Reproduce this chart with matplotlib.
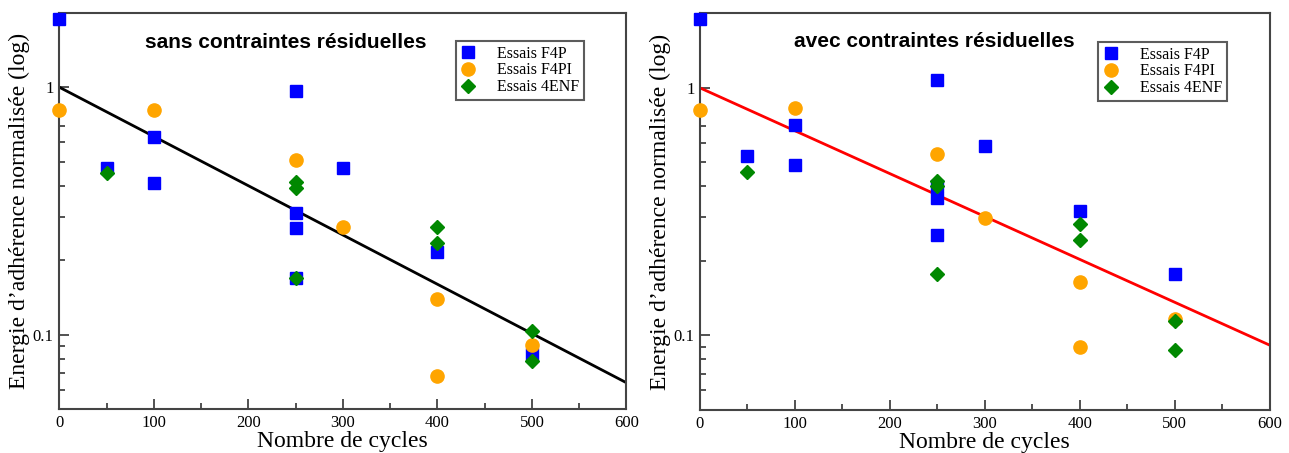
import matplotlib
matplotlib.use("Agg")
import matplotlib.pyplot as plt
from matplotlib.ticker import FixedLocator, NullFormatter, FixedFormatter

# ---- data: left panel (sans contraintes résiduelles) ----
L_f4p_x = [0, 50, 100, 100, 250, 250, 250, 250, 300, 400, 500]
L_f4p_y = [1.89, 0.471, 0.628, 0.412, 0.969, 0.310, 0.269, 0.170, 0.473, 0.216, 0.0836]
L_f4pi_x = [0, 100, 250, 300, 400, 400, 500]
L_f4pi_y = [0.81, 0.81, 0.510, 0.272, 0.139, 0.068, 0.091]
L_4enf_x = [50, 250, 250, 250, 400, 400, 500, 500]
L_4enf_y = [0.452, 0.416, 0.390, 0.169, 0.272, 0.235, 0.104, 0.078]
L_fit_x = [0, 600]
L_fit_y = [1.0, 0.064]

# ---- data: right panel (avec contraintes résiduelles) ----
R_f4p_x = [0, 50, 100, 100, 250, 250, 250, 250, 300, 400, 500]
R_f4p_y = [1.89, 0.530, 0.705, 0.487, 1.08, 0.40, 0.36, 0.255, 0.585, 0.317, 0.177]
R_f4pi_x = [0, 100, 250, 300, 400, 400, 500]
R_f4pi_y = [0.812, 0.828, 0.539, 0.299, 0.164, 0.0897, 0.117]
R_4enf_x = [50, 250, 250, 250, 400, 400, 500, 500]
R_4enf_y = [0.458, 0.422, 0.401, 0.177, 0.282, 0.244, 0.114, 0.087]
R_fit_x = [0, 600]
R_fit_y = [1.0, 0.0914]

titles = ["sans contraintes résiduelles", "avec contraintes résiduelles"]
series_labels = ["Essais F4P", "Essais F4PI", "Essais 4ENF"]
x_ticks = [0, 100, 200, 300, 400, 500, 600]
y_major = [0.1, 1]
y_major_labels = ["0.1", "1"]
y_minor = [0.06, 0.07, 0.08, 0.09, 0.2, 0.3, 0.4, 0.5, 0.6, 0.7]
xlabel = "Nombre de cycles"
ylabel = "Energie d\u2019adhérence normalisée (log)"

fig = plt.figure(figsize=(12.89, 4.53), dpi=100)
axL = fig.add_axes([0.046, 0.0965, 0.440, 0.8755])
axR = fig.add_axes([0.543, 0.0949, 0.442, 0.8757])

serif = "Liberation Serif"
sans = "Liberation Sans"

panels = [
    (axL, L_f4p_x, L_f4p_y, L_f4pi_x, L_f4pi_y, L_4enf_x, L_4enf_y, L_fit_x, L_fit_y, "black", titles[0],
     (0.40, 0.926), (0.812, 0.929)),
    (axR, R_f4p_x, R_f4p_y, R_f4pi_x, R_f4pi_y, R_4enf_x, R_4enf_y, R_fit_x, R_fit_y, "#ff0000", titles[1],
     (0.411, 0.928), (0.812, 0.928)),
]

for (ax, ax1, ay1, ax2, ay2, ax3, ay3, fx, fy, lc, title, tpos, lpos) in panels:
    ax.set_yscale("log")
    ax.plot(fx, fy, color=lc, lw=2, zorder=2)
    ax.plot(ax1, ay1, ls="none", marker="s", ms=8.5, color="#0000ff", mec="#0000ff",
            label=series_labels[0], zorder=3, clip_on=False)
    ax.plot(ax2, ay2, ls="none", marker="o", ms=9.5, color="#ffa500", mec="#ffa500",
            label=series_labels[1], zorder=3, clip_on=False)
    ax.plot(ax3, ay3, ls="none", marker="D", ms=7, color="#008800", mec="#008800",
            label=series_labels[2], zorder=4, clip_on=False)
    ax.set_xlim(0, 600)
    ax.set_ylim(0.05, 2.0)
    ax.xaxis.set_major_locator(FixedLocator(x_ticks))
    ax.xaxis.set_minor_locator(FixedLocator([50, 150, 250, 350, 450, 550]))
    ax.yaxis.set_major_locator(FixedLocator(y_major))
    ax.yaxis.set_major_formatter(FixedFormatter(y_major_labels))
    ax.yaxis.set_minor_locator(FixedLocator(y_minor))
    ax.yaxis.set_minor_formatter(NullFormatter())
    ax.tick_params(which="both", direction="in", top=False, right=False, color="#333333", width=1.2)
    ax.tick_params(which="major", length=7, labelsize=12, pad=4)
    ax.tick_params(which="minor", length=4)
    for lab in ax.get_xticklabels() + ax.get_yticklabels():
        lab.set_fontfamily(serif)
    for s in ax.spines.values():
        s.set_color("#444444")
        s.set_linewidth(1.5)
    ax.set_xlabel(xlabel, fontfamily=serif, fontsize=17, labelpad=0)
    ax.set_ylabel(ylabel, fontfamily=serif, fontsize=17, labelpad=2)
    ax.text(tpos[0], tpos[1], title, transform=ax.transAxes, ha="center", va="center",
            fontfamily=sans, fontweight="bold", fontsize=15)
    leg = ax.legend(loc="upper center", bbox_to_anchor=lpos, frameon=True, fancybox=False,
                    prop={"family": serif, "size": 11.5}, borderpad=0.3, labelspacing=0.05,
                    handletextpad=1.3, handlelength=1.0, borderaxespad=0)
    leg.get_frame().set_edgecolor("#333333")
    leg.get_frame().set_linewidth(1.5)

fig.savefig("out.png", dpi=100)
